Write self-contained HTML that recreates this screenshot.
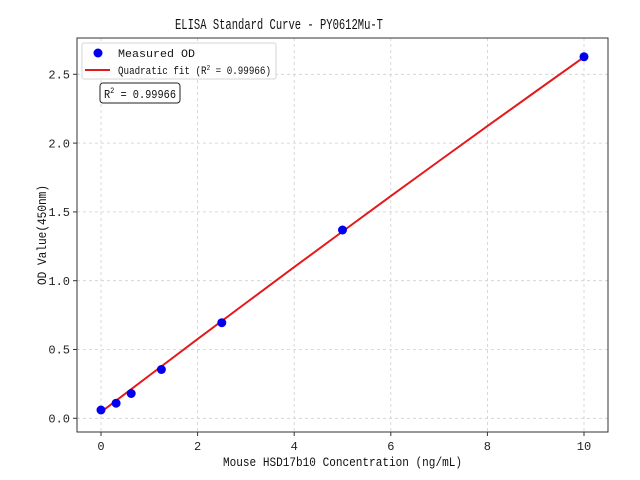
<!DOCTYPE html>
<html><head><meta charset="utf-8"><style>
html,body{margin:0;padding:0;background:#fff;}
svg{display:block;font-family:"Liberation Mono","Noto Sans CJK SC",monospace;}
</style></head><body>
<svg width="640" height="480" viewBox="0 0 640 480" xmlns="http://www.w3.org/2000/svg">
<rect width="640" height="480" fill="#fff"/>
<g stroke="#cfcfcf" stroke-width="0.8" stroke-dasharray="3,3">
<line x1="101" y1="38" x2="101" y2="432"/>
<line x1="197.6" y1="38" x2="197.6" y2="432"/>
<line x1="294.2" y1="38" x2="294.2" y2="432"/>
<line x1="390.8" y1="38" x2="390.8" y2="432"/>
<line x1="487.4" y1="38" x2="487.4" y2="432"/>
<line x1="584" y1="38" x2="584" y2="432"/>
<line x1="77" y1="418.3" x2="608" y2="418.3"/>
<line x1="77" y1="349.5" x2="608" y2="349.5"/>
<line x1="77" y1="280.7" x2="608" y2="280.7"/>
<line x1="77" y1="211.9" x2="608" y2="211.9"/>
<line x1="77" y1="143.1" x2="608" y2="143.1"/>
<line x1="77" y1="74.3" x2="608" y2="74.3"/>
</g>
<polyline fill="none" stroke="#e31a1c" stroke-width="2" points="101,412.1 149.3,375.5 197.6,339.1 245.9,303.0 294.2,267.1 342.5,231.5 390.8,196.1 439.1,161.0 487.4,126.1 535.7,91.5 584,57.1"/>
<g fill="#0000ee">
<circle cx="101" cy="410" r="4.5"/>
<circle cx="116.1" cy="403.2" r="4.5"/>
<circle cx="131.2" cy="393.5" r="4.5"/>
<circle cx="161.4" cy="369.5" r="4.5"/>
<circle cx="221.8" cy="322.7" r="4.5"/>
<circle cx="342.5" cy="230" r="4.5"/>
<circle cx="584" cy="56.8" r="4.5"/>
</g>
<rect x="77" y="38" width="531" height="394" fill="none" stroke="#333" stroke-width="1"/>
<g stroke="#333" stroke-width="1">
<line x1="101" y1="432" x2="101" y2="436"/><line x1="197.6" y1="432" x2="197.6" y2="436"/>
<line x1="294.2" y1="432" x2="294.2" y2="436"/><line x1="390.8" y1="432" x2="390.8" y2="436"/>
<line x1="487.4" y1="432" x2="487.4" y2="436"/><line x1="584" y1="432" x2="584" y2="436"/>
<line x1="73" y1="418.3" x2="77" y2="418.3"/><line x1="73" y1="349.5" x2="77" y2="349.5"/>
<line x1="73" y1="280.7" x2="77" y2="280.7"/><line x1="73" y1="211.9" x2="77" y2="211.9"/>
<line x1="73" y1="143.1" x2="77" y2="143.1"/><line x1="73" y1="74.3" x2="77" y2="74.3"/>
</g>
<g font-size="12" fill="#222" text-anchor="middle">
<text x="101" y="450">0</text><text x="197.6" y="450">2</text><text x="294.2" y="450">4</text>
<text x="390.8" y="450">6</text><text x="487.4" y="450">8</text><text x="584" y="450">10</text>
</g>
<g font-size="12" fill="#222" text-anchor="end">
<text x="70" y="422.5">0.0</text><text x="70" y="353.7">0.5</text><text x="70" y="284.9">1.0</text>
<text x="70" y="216.1">1.5</text><text x="70" y="147.3">2.0</text><text x="70" y="78.5">2.5</text>
</g>
<text x="342.5" y="466" font-size="12.5" fill="#111" text-anchor="middle" textLength="239" lengthAdjust="spacingAndGlyphs">Mouse HSD17b10 Concentration (ng/mL)</text>
<text transform="translate(46,235) rotate(-90)" font-size="12.5" fill="#111" text-anchor="middle" textLength="100" lengthAdjust="spacingAndGlyphs">OD Value(450nm)</text>
<text x="279" y="29" font-size="15" fill="#111" text-anchor="middle" textLength="208" lengthAdjust="spacingAndGlyphs">ELISA Standard Curve - PY0612Mu-T</text>
<rect x="82" y="43" width="194" height="36" rx="2" fill="#fff" fill-opacity="0.85" stroke="#d6d6d6" stroke-width="1"/>
<circle cx="98" cy="53" r="4.5" fill="#0000ee"/>
<line x1="85" y1="70" x2="110" y2="70" stroke="#e31a1c" stroke-width="2"/>
<text x="118" y="57" font-size="11" fill="#111" textLength="77" lengthAdjust="spacingAndGlyphs">Measured OD</text>
<text x="118" y="74" font-size="11" fill="#111" textLength="153" lengthAdjust="spacingAndGlyphs">Quadratic fit (R<tspan dy="-4" font-size="7">2</tspan><tspan dy="4"> = 0.99966)</tspan></text>
<rect x="100" y="83" width="80" height="20" rx="3" fill="#fff" stroke="#222" stroke-width="1"/>
<text x="104" y="98" font-size="12" fill="#111" textLength="72" lengthAdjust="spacingAndGlyphs">R<tspan dy="-5" font-size="8">2</tspan><tspan dy="5"> = 0.99966</tspan></text>
</svg>
</body></html>
